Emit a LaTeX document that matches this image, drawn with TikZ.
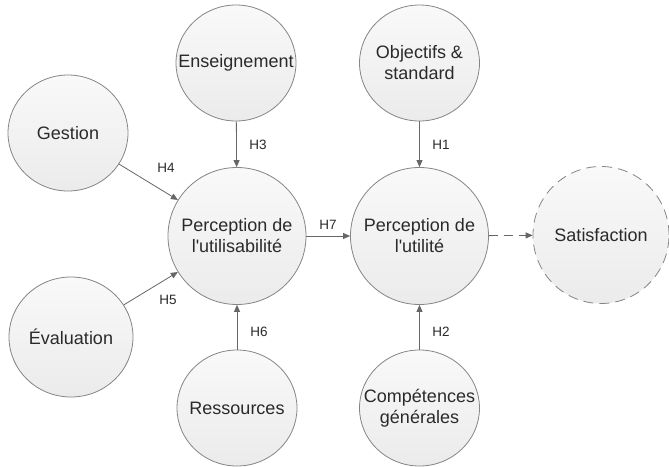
\documentclass[tikz,border=0pt]{standalone}
\usepackage{fontspec}
\setmainfont{Liberation Sans}
\usetikzlibrary{shapes.geometric,arrows.meta}
\definecolor{edgec}{HTML}{858585}
\definecolor{filltop}{HTML}{F9F9F9}
\definecolor{fillbot}{HTML}{EBEBEB}
\definecolor{txtc}{HTML}{2A2A2A}
\definecolor{arrc}{HTML}{666666}
\begin{document}
\begin{tikzpicture}[x=1pt,y=-1pt,
  bub/.style={ellipse,draw=edgec,line width=0.8pt,top color=filltop,bottom color=fillbot,inner sep=0pt,minimum width=120pt,minimum height=116pt},
  big/.style={bub,minimum width=138pt,minimum height=137pt},
  txtl/.style={text=txtc,font=\fontsize{18}{21}\selectfont,align=center,inner sep=0pt},
  hyp/.style={text=txtc,font=\fontsize{13.5}{15}\selectfont,inner sep=0pt},
  link/.style={draw=arrc,line width=0.8pt,-{Triangle[length=7pt,width=6pt]}}]
\useasboundingbox (0,0) rectangle (669,466);
\fill[white] (0,0) rectangle (669,466);
\node[bub,label={[txtl]center:Enseignement}] (ens) at (236,63) {};
\node[bub,label={[txtl]center:{Objectifs \&\\standard}}] (obj) at (419.5,63) {};
\node[bub,label={[txtl]center:Gestion}] (ges) at (68,133) {};
\node[bub,minimum width=124pt,minimum height=120pt,label={[txtl]center:Évaluation}] (eva) at (71,337) {};
\node[bub,label={[txtl]center:Ressources}] (res) at (237,408) {};
\node[bub,label={[txtl]center:{Compétences\\générales}}] (comp) at (419.5,408) {};
\node[big,label={[txtl]center:{Perception de\\l\textquotesingle utilisabilité}}] (pu) at (237,236) {};
\node[big,label={[txtl]center:{Perception de\\l\textquotesingle utilité}}] (pt) at (419.5,236) {};
\node[big,dash pattern=on 10pt off 6pt,minimum width=136pt,label={[txtl]center:Satisfaction}] (sat) at (601,235) {};
\draw[link] (ens) -- (pu);
\draw[link] (obj) -- (pt);
\draw[link] (ges) -- (pu);
\draw[link] (eva) -- (pu);
\draw[link] (res) -- (pu);
\draw[link] (comp) -- (pt);
\draw[link] (pu) -- (pt);
\draw[link,dash pattern=on 9pt off 6pt] (pt) -- (sat);
\node[hyp] (h3) at (258,145) {H3};
\node[hyp] (h1) at (441,145) {H1};
\node[hyp] (h4) at (166,168) {H4};
\node[hyp] (h5) at (168,300) {H5};
\node[hyp] (h6) at (259,332) {H6};
\node[hyp] (h2) at (441,332) {H2};
\node[hyp] (h7) at (328,225) {H7};
\end{tikzpicture}
\end{document}
